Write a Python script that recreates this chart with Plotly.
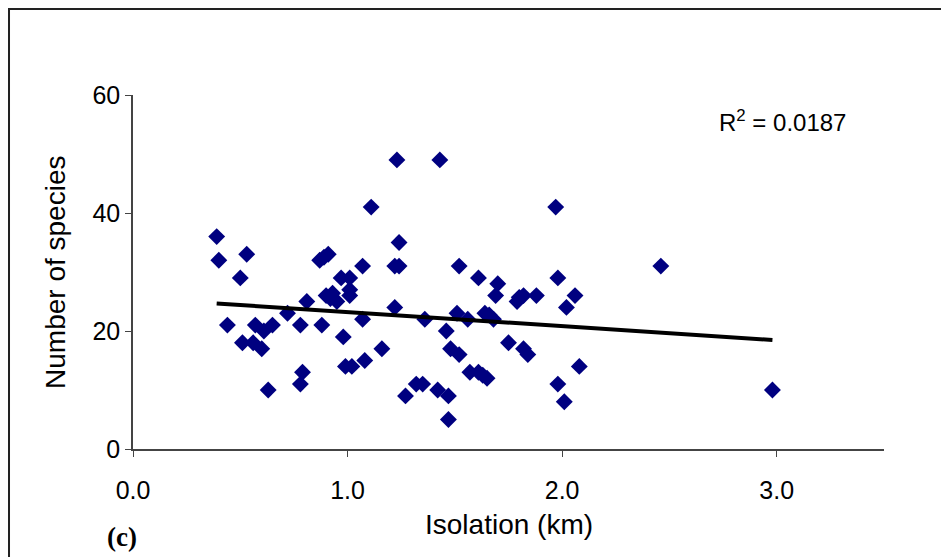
import numpy as np
import plotly.graph_objects as go

# isolation (km) and number of species
isolation = [
    0.39, 0.40, 0.53, 0.50, 0.44, 0.57, 0.51, 0.56, 0.60, 0.61, 0.65, 0.63,
    0.72, 0.78, 0.79, 0.78, 0.81, 0.87, 0.89, 0.91, 0.88, 0.90, 0.92, 0.93,
    0.95, 0.97, 0.98, 0.99, 1.01, 1.01, 1.01, 1.02, 1.07, 1.07, 1.08, 1.11,
    1.16, 1.22, 1.22, 1.23, 1.24, 1.24, 1.27, 1.32, 1.35, 1.36, 1.42, 1.43,
    1.46, 1.47, 1.47, 1.48, 1.51, 1.52, 1.52, 1.56, 1.57, 1.61, 1.61, 1.63,
    1.64, 1.65, 1.66, 1.68, 1.69, 1.70, 1.75, 1.79, 1.80, 1.82, 1.82, 1.84,
    1.88, 1.97, 1.98, 1.98, 2.01, 2.02, 2.06, 2.08, 2.46, 2.98,
]
species = [
    36, 32, 33, 29, 21, 21, 18, 18, 17, 20, 21, 10,
    23, 21, 13, 11, 25, 32, 32.5, 33, 21, 26, 25.5, 26.4,
    25, 29, 19, 14, 29, 27, 26, 14, 31, 22, 15, 41,
    17, 31, 24, 49, 35, 31, 9, 11, 11, 22, 10, 49,
    20, 9, 5, 17, 23, 31, 16, 22, 13, 29, 13, 12.5,
    23, 12, 22.7, 22, 26, 28, 18, 25, 25.7, 26, 17, 16,
    26, 41, 29, 11, 8, 24, 26, 14, 31, 10,
]
x_ticks = [0, 1, 2, 3]
x_tick_labels = ["0.0", "1.0", "2.0", "3.0"]
y_ticks = [0, 20, 40, 60]
r2_text = "R<sup>2</sup> = 0.0187"

# linear trend line through the points
x = np.array(isolation)
y = np.array(species)
slope, intercept = np.polyfit(x, y, 1)
fit_x = [x.min(), x.max()]
fit_y = [slope * v + intercept for v in fit_x]

fig = go.Figure()
fig.add_trace(go.Scatter(
    x=isolation, y=species, mode="markers",
    marker=dict(symbol="diamond", size=13, color="#000080"),
    showlegend=False,
))
fig.add_trace(go.Scatter(
    x=fit_x, y=fit_y, mode="lines",
    line=dict(color="black", width=4),
    showlegend=False,
))

sans = "Liberation Sans, Arial"
tick_font = dict(family=sans, size=25, color="black")

fig.update_layout(
    width=941, height=549,
    margin=dict(l=125, r=65, t=87, b=108),
    paper_bgcolor="white", plot_bgcolor="white",
    font=tick_font,
    xaxis=dict(range=[0, 3.5], tickvals=x_ticks, ticktext=x_tick_labels,
               showgrid=False, zeroline=False, showline=True, linecolor="#444", linewidth=1.5,
               ticks="outside", ticklen=6, tickcolor="#444", tickfont=tick_font,
               ticklabelstandoff=12),
    yaxis=dict(range=[0, 60], tickvals=y_ticks,
               showgrid=False, zeroline=False, showline=True, linecolor="#444", linewidth=1.5,
               ticks="outside", ticklen=6, tickcolor="#444", tickfont=tick_font),
)

# outer frame of the panel
fig.add_shape(type="rect", xref="paper", yref="paper",
              x0=-0.1651, x1=2, y0=-1, y1=1.2429,
              line=dict(color="#222", width=2))

fig.add_annotation(text=r2_text, xref="paper", yref="paper", x=0.7776, y=0.9266,
                   xanchor="left", yanchor="middle", showarrow=False,
                   font=dict(family=sans, size=24, color="black"))
fig.add_annotation(text="Isolation (km)", xref="paper", yref="paper",
                   x=0.5, y=-0.2119,
                   xanchor="center", yanchor="middle", showarrow=False,
                   font=dict(family=sans, size=28, color="black"))
fig.add_annotation(text="Number of species", xref="paper", yref="paper",
                   x=-0.1039, y=0.5, textangle=-90,
                   xanchor="center", yanchor="middle", showarrow=False,
                   font=dict(family=sans, size=28, color="black"))
fig.add_annotation(text="<b>(c)</b>", xref="paper", yref="paper",
                   x=-0.0373, y=-0.2486,
                   xanchor="left", yanchor="middle", showarrow=False,
                   font=dict(family="Liberation Serif, Times New Roman", size=27, color="black"))

fig.write_html("out.html")
